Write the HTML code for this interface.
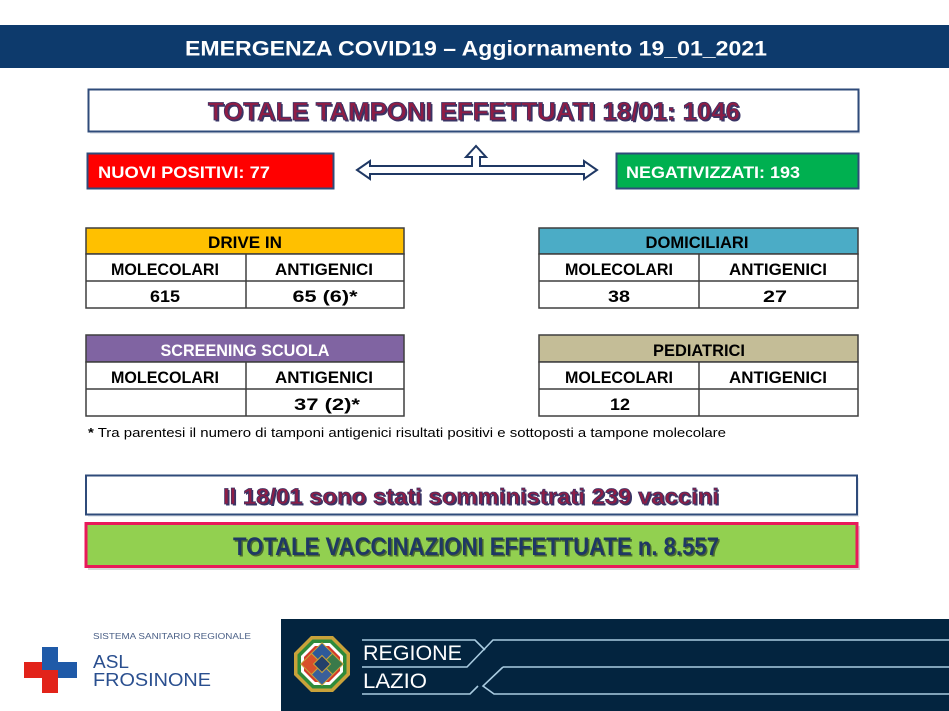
<!DOCTYPE html>
<html><head><meta charset="utf-8"><style>
html,body{margin:0;padding:0;background:#fff;}
svg{display:block;}
text{font-family:"Liberation Sans",sans-serif;}
</style></head><body>
<svg width="949" height="711" viewBox="0 0 949 711" xmlns="http://www.w3.org/2000/svg">
<rect x="0" y="0" width="949" height="711" fill="#ffffff"/>
<!-- header band -->
<rect x="0" y="25" width="949" height="43" fill="#0d3a6c"/>
<text x="185" y="55.5" font-size="21" font-weight="bold" fill="#ffffff" textLength="582" lengthAdjust="spacingAndGlyphs">EMERGENZA COVID19 – Aggiornamento 19_01_2021</text>

<!-- title box -->
<rect x="90" y="92" width="770" height="42" fill="#d8dde6" opacity="0.6"/>
<rect x="88.5" y="89.5" width="770" height="42" fill="#ffffff" stroke="#2f4b7a" stroke-width="2"/>
<text x="209.5" y="121.5" font-size="25" font-weight="bold" fill="#3a3565" textLength="532" lengthAdjust="spacingAndGlyphs">TOTALE TAMPONI EFFETTUATI 18/01: 1046</text>
<text x="208" y="120" font-size="25" font-weight="bold" fill="#8f1d45" stroke="#3d3366" stroke-width="0.8" textLength="532" lengthAdjust="spacingAndGlyphs">TOTALE TAMPONI EFFETTUATI 18/01: 1046</text>

<!-- red / green boxes -->
<rect x="87.5" y="153.5" width="246" height="35" fill="#ff0000" stroke="#2f4b7a" stroke-width="2"/>
<text x="98" y="178" font-size="17" font-weight="bold" fill="#ffffff" textLength="172" lengthAdjust="spacingAndGlyphs">NUOVI POSITIVI: 77</text>
<rect x="616.5" y="153.5" width="242" height="35" fill="#00b050" stroke="#2f4b7a" stroke-width="2"/>
<text x="626" y="178" font-size="17" font-weight="bold" fill="#ffffff" textLength="174" lengthAdjust="spacingAndGlyphs">NEGATIVIZZATI: 193</text>

<!-- arrow -->
<polygon points="357,170 370,161 370,166 472,166 472,157 466,157 476,146 486,157 480,157 480,166 584,166 584,161 597,170 584,179 584,174 370,174 370,179" fill="#ffffff" stroke="#1f3864" stroke-width="2" stroke-linejoin="miter"/>

<!-- tables -->
<g stroke="#3f3f3f" stroke-width="1.5">
<rect x="86" y="228" width="318" height="26" fill="#ffc000"/>
<rect x="86" y="254" width="318" height="54" fill="#ffffff"/>
<line x1="86" y1="281" x2="404" y2="281"/>
<line x1="246" y1="254" x2="246" y2="308"/>

<rect x="539" y="228" width="319" height="26" fill="#4bacc6"/>
<rect x="539" y="254" width="319" height="54" fill="#ffffff"/>
<line x1="539" y1="281" x2="858" y2="281"/>
<line x1="699" y1="254" x2="699" y2="308"/>

<rect x="86" y="335" width="318" height="27" fill="#8064a2"/>
<rect x="86" y="362" width="318" height="54" fill="#ffffff"/>
<line x1="86" y1="389" x2="404" y2="389"/>
<line x1="246" y1="362" x2="246" y2="416"/>

<rect x="539" y="335" width="319" height="27" fill="#c4bd97"/>
<rect x="539" y="362" width="319" height="54" fill="#ffffff"/>
<line x1="539" y1="389" x2="858" y2="389"/>
<line x1="699" y1="362" x2="699" y2="416"/>
</g>

<g font-size="17" font-weight="bold" fill="#000000" text-anchor="middle">
<text x="245" y="248" textLength="74" lengthAdjust="spacingAndGlyphs">DRIVE IN</text>
<text x="165" y="275" textLength="108" lengthAdjust="spacingAndGlyphs">MOLECOLARI</text>
<text x="324" y="275" textLength="98" lengthAdjust="spacingAndGlyphs">ANTIGENICI</text>
<text x="165" y="302" textLength="30" lengthAdjust="spacingAndGlyphs">615</text>
<text x="325" y="302" textLength="65" lengthAdjust="spacingAndGlyphs">65 (6)*</text>

<text x="697" y="248" textLength="103" lengthAdjust="spacingAndGlyphs">DOMICILIARI</text>
<text x="619" y="275" textLength="108" lengthAdjust="spacingAndGlyphs">MOLECOLARI</text>
<text x="778" y="275" textLength="98" lengthAdjust="spacingAndGlyphs">ANTIGENICI</text>
<text x="619" y="302" textLength="22" lengthAdjust="spacingAndGlyphs">38</text>
<text x="775" y="302" textLength="24" lengthAdjust="spacingAndGlyphs">27</text>

<text x="245" y="356" fill="#ffffff" textLength="169" lengthAdjust="spacingAndGlyphs">SCREENING SCUOLA</text>
<text x="165" y="383" textLength="108" lengthAdjust="spacingAndGlyphs">MOLECOLARI</text>
<text x="324" y="383" textLength="98" lengthAdjust="spacingAndGlyphs">ANTIGENICI</text>
<text x="327" y="410" textLength="66" lengthAdjust="spacingAndGlyphs">37 (2)*</text>

<text x="699" y="356" textLength="92" lengthAdjust="spacingAndGlyphs">PEDIATRICI</text>
<text x="619" y="383" textLength="108" lengthAdjust="spacingAndGlyphs">MOLECOLARI</text>
<text x="778" y="383" textLength="98" lengthAdjust="spacingAndGlyphs">ANTIGENICI</text>
<text x="620" y="410" textLength="20" lengthAdjust="spacingAndGlyphs">12</text>
</g>

<!-- footnote -->
<text x="88" y="437" font-size="12.5" fill="#000000" textLength="638" lengthAdjust="spacingAndGlyphs"><tspan font-weight="bold">*</tspan> Tra parentesi  il numero di tamponi antigenici risultati positivi e sottoposti a tampone molecolare</text>

<!-- vaccini box -->
<rect x="88" y="478" width="771" height="39" fill="#d8dde6" opacity="0.6"/>
<rect x="86" y="475.5" width="771" height="39" fill="#ffffff" stroke="#2f4b7a" stroke-width="2"/>
<text x="224.5" y="505.5" font-size="22" font-weight="bold" fill="#3a3565" textLength="496" lengthAdjust="spacingAndGlyphs">Il 18/01 sono stati somministrati 239 vaccini</text>
<text x="223" y="504" font-size="22" font-weight="bold" fill="#8f1d45" stroke="#3d3366" stroke-width="0.7" textLength="496" lengthAdjust="spacingAndGlyphs">Il 18/01 sono stati somministrati 239 vaccini</text>

<!-- totale vaccinazioni -->
<rect x="88" y="526" width="772" height="44" fill="#b0b0b0" opacity="0.5"/>
<rect x="86" y="523.5" width="771" height="43" fill="#92d050" stroke="#e8195a" stroke-width="3"/>
<text x="234.5" y="556.5" font-size="25" font-weight="bold" fill="#4a6a30" textLength="486" lengthAdjust="spacingAndGlyphs">TOTALE VACCINAZIONI EFFETTUATE n. 8.557</text>
<text x="233" y="555" font-size="25" font-weight="bold" fill="#1f3864" textLength="486" lengthAdjust="spacingAndGlyphs">TOTALE VACCINAZIONI EFFETTUATE n. 8.557</text>

<!-- ASL logo -->
<rect x="42" y="647" width="16" height="16" fill="#1f5aa8"/>
<rect x="42" y="662" width="35" height="16" fill="#1f5aa8"/>
<rect x="24" y="662" width="18" height="16" fill="#e2231a"/>
<rect x="42" y="670" width="16" height="23" fill="#e2231a"/>
<text x="93" y="639" font-size="8" fill="#4a5f86" textLength="158" lengthAdjust="spacingAndGlyphs">SISTEMA SANITARIO REGIONALE</text>
<text x="93" y="668" font-size="18" fill="#2a4f8f" textLength="36" lengthAdjust="spacingAndGlyphs">ASL</text>
<text x="93" y="686" font-size="18" fill="#2a4f8f" textLength="118" lengthAdjust="spacingAndGlyphs">FROSINONE</text>

<!-- footer navy -->
<rect x="281" y="619" width="668" height="92" fill="#03243f"/>
<g fill="none" stroke="#a9cbe0" stroke-width="1.6">
<polyline points="362,640 475,640 485,650"/>
<polyline points="362,667 467,667 493,640 949,640"/>
<polyline points="503,667 949,667"/>
<polyline points="503,667 483,686 494,694 949,694"/>
<polyline points="362,694 470,694 478,686"/>
</g>
<text x="363" y="660" font-size="21" fill="#ffffff" textLength="99" lengthAdjust="spacingAndGlyphs">REGIONE</text>
<text x="363" y="688" font-size="21" fill="#ffffff" textLength="64" lengthAdjust="spacingAndGlyphs">LAZIO</text>

<!-- emblem -->
<g>
<polygon points="311,636 333,636 350,653 350,675 333,692 311,692 294,675 294,653" fill="#c9a23a"/>
<polygon points="312.5,639.5 331.5,639.5 346.5,654.5 346.5,673.5 331.5,688.5 312.5,688.5 297.5,673.5 297.5,654.5" fill="#2e8b3a"/>
<polygon points="314,643 330,643 343,656 343,672 330,685 314,685 301,672 301,656" fill="#ffffff"/>
<polygon points="315,646 329,646 340,657 340,671 329,682 315,682 304,671 304,657" fill="#d23a2a"/>
<g transform="rotate(45 322 664)">
<rect x="307" y="649" width="15" height="15" fill="#2d5a9a" stroke="#c9a23a" stroke-width="1"/>
<rect x="322" y="649" width="15" height="15" fill="#3a7a4a" stroke="#c9a23a" stroke-width="1"/>
<rect x="307" y="664" width="15" height="15" fill="#d8502a" stroke="#c9a23a" stroke-width="1"/>
<rect x="322" y="664" width="15" height="15" fill="#3a5f9a" stroke="#c9a23a" stroke-width="1"/>
<rect x="316" y="658" width="12" height="12" fill="#23406a" stroke="#c9a23a" stroke-width="1"/>
</g>
</g>
</svg>
</body></html>
